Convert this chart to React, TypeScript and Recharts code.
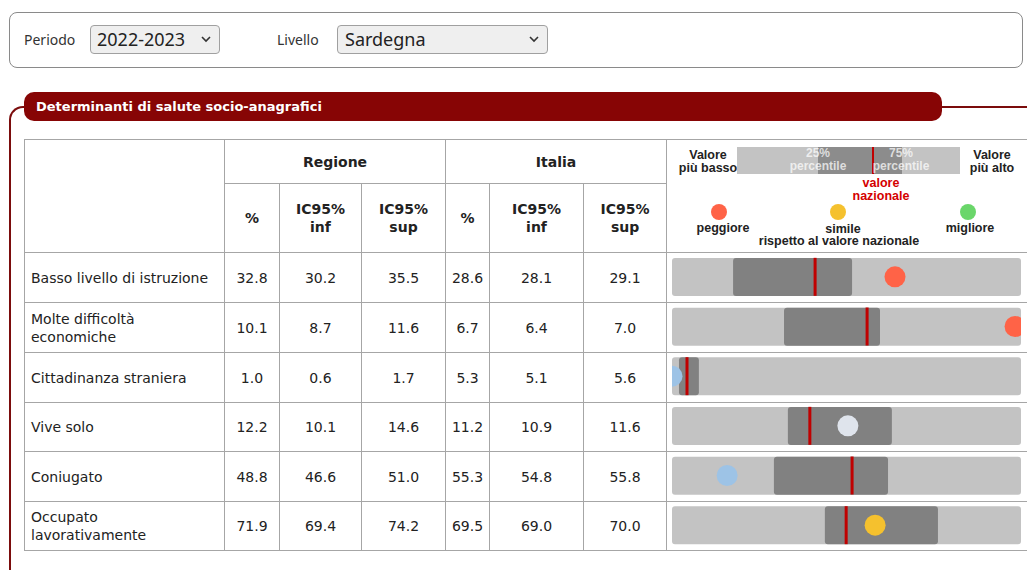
import React from 'react';
import { ComposedChart, Bar, Scatter, XAxis, YAxis } from 'recharts';

// ---- data ----
const indicators = [
  'Basso livello di istruzione',
  'Molte difficoltà economiche',
  'Cittadinanza straniera',
  'Vive solo',
  'Coniugato',
  'Occupato lavorativamente',
];
const regionPct = ['32.8', '10.1', '1.0', '12.2', '48.8', '71.9'];
const regionLow = ['30.2', '8.7', '0.6', '10.1', '46.6', '69.4'];
const regionHigh = ['35.5', '11.6', '1.7', '14.6', '51.0', '74.2'];
const italyPct = ['28.6', '6.7', '5.3', '11.2', '55.3', '69.5'];
const italyLow = ['28.1', '6.4', '5.1', '10.9', '54.8', '69.0'];
const italyHigh = ['29.1', '7.0', '5.6', '11.6', '55.8', '70.0'];
// spine chart, on a 0-100 scale from the lowest to the highest regional value
const p25Pos = [17.5, 32.1, 2.0, 33.2, 29.2, 43.8];
const p75Pos = [51.6, 59.6, 7.7, 63.0, 61.9, 76.2];
const nationalPos = [41.0, 55.9, 4.3, 39.5, 51.6, 49.9];
const regionPos = [63.9, 98.3, 0, 50.4, 15.8, 58.2];
const comparison = ['peggiore', 'peggiore', 'inferiore', 'ns', 'inferiore', 'simile'];

// ---- styles ----
const cmpColor: Record<string, string> = {
  peggiore: '#ff6347',
  simile: '#f5c12e',
  migliore: '#6ad66a',
  inferiore: '#9dc3e6',
  ns: '#dfe4ec',
};
const LIGHT = '#c3c3c3';
const DARK = '#818181';
const RED = '#c00000';
const BORDER = '#a6a6a6';

const chartRows = indicators.map((name, i) => ({
  name,
  lo: p25Pos[i],
  mid: p75Pos[i] - p25Pos[i],
  nat: nationalPos[i],
  reg: regionPos[i],
  cmp: comparison[i],
}));

const rowHeights = [50, 50, 50, 49, 50, 49];

const abs = (s: React.CSSProperties): React.CSSProperties => ({ position: 'absolute', ...s });

const NatLine = (props: any) => {
  const { cx, cy } = props;
  if (cx == null || cy == null) return <g />;
  return <rect x={cx - 1.5} y={cy - 19} width={3} height={38} fill={RED} />;
};
const RegDot = (props: any) => {
  const { cx, cy, payload } = props;
  if (cx == null || cy == null) return <g />;
  return <circle cx={cx} cy={cy} r={10.5} fill={cmpColor[payload.cmp]} />;
};

const Chevron = ({ left, top }: { left: number; top: number }) => (
  <svg style={abs({ left, top })} width={12} height={8}>
    <polyline points="2,2 6,6 10,2" fill="none" stroke="#333" strokeWidth={1.6} />
  </svg>
);

const legendFont: React.CSSProperties = {
  fontFamily: '"Liberation Sans", Arial, sans-serif',
  fontWeight: 'bold',
  fontSize: 12.5,
  lineHeight: '13px',
  color: '#222',
  textAlign: 'center',
  whiteSpace: 'nowrap',
};

const Centered = ({ cx, top, w = 200, style, children }: any) => (
  <div style={abs({ left: cx - w / 2, top, width: w, ...legendFont, ...style })}>{children}</div>
);

const cellBase: React.CSSProperties = {
  border: `1px solid ${BORDER}`,
  padding: 0,
  textAlign: 'center',
  verticalAlign: 'middle',
};

export default function App() {
  return (
    <div
      style={abs({
        left: 0,
        top: 0,
        width: 1027,
        height: 570,
        overflow: 'hidden',
        background: '#fff',
        fontFamily: '"DejaVu Sans", Verdana, sans-serif',
      })}
    >
      {/* filter box */}
      <div
        style={abs({
          left: 9,
          top: 12,
          width: 1014,
          height: 56,
          border: '1.5px solid #8a8a8a',
          borderRadius: 8,
          boxSizing: 'border-box',
        })}
      />
      <div style={abs({ left: 24, top: 30, fontFamily: '"Noto Sans"', fontSize: 14, lineHeight: '20px', color: '#333' })}>
        Periodo
      </div>
      <div
        style={abs({
          left: 90,
          top: 25,
          width: 130,
          height: 29,
          background: '#efefef',
          border: '1px solid #a0a0a0',
          borderRadius: 4,
          boxSizing: 'border-box',
        })}
      />
      <div style={abs({ left: 97, top: 26, fontFamily: '"Noto Sans"', fontSize: 18, lineHeight: '26px', color: '#222' })}>
        2022-2023
      </div>
      <Chevron left={200} top={35} />
      <div style={abs({ left: 277, top: 30, fontFamily: '"Noto Sans"', fontSize: 14, lineHeight: '20px', color: '#333' })}>
        Livello
      </div>
      <div
        style={abs({
          left: 337,
          top: 25,
          width: 211,
          height: 29,
          background: '#efefef',
          border: '1px solid #a0a0a0',
          borderRadius: 4,
          boxSizing: 'border-box',
        })}
      />
      <div style={abs({ left: 345, top: 26, fontFamily: '"Noto Sans"', fontSize: 18, lineHeight: '26px', color: '#222' })}>
        Sardegna
      </div>
      <Chevron left={528} top={35} />

      {/* section frame */}
      <div
        style={abs({
          left: 9,
          top: 106,
          width: 1100,
          height: 600,
          borderTop: '2px solid #7b0c0c',
          borderLeft: '2px solid #7b0c0c',
          borderTopLeftRadius: 14,
          boxSizing: 'border-box',
        })}
      />
      <div
        style={abs({
          left: 24,
          top: 92,
          width: 918,
          height: 29,
          background: '#870505',
          borderRadius: 10,
          color: '#fff',
          fontWeight: 'bold',
          fontSize: 13,
          lineHeight: '29px',
          paddingLeft: 12,
          boxSizing: 'border-box',
        })}
      >
        Determinanti di salute socio-anagrafici
      </div>

      {/* table */}
      <table
        style={abs({
          left: 24,
          top: 139,
          borderCollapse: 'collapse',
          tableLayout: 'fixed',
          width: 1012,
          fontSize: 14,
          color: '#222',
        })}
      >
        <colgroup>
          <col style={{ width: 200 }} />
          <col style={{ width: 55 }} />
          <col style={{ width: 82 }} />
          <col style={{ width: 84 }} />
          <col style={{ width: 44 }} />
          <col style={{ width: 94 }} />
          <col style={{ width: 83 }} />
          <col style={{ width: 370 }} />
        </colgroup>
        <tbody>
          <tr style={{ height: 44 }}>
            <td rowSpan={2} style={cellBase} />
            <td colSpan={3} style={{ ...cellBase, fontWeight: 'bold' }}>Regione</td>
            <td colSpan={3} style={{ ...cellBase, fontWeight: 'bold' }}>Italia</td>
            <td rowSpan={2} style={cellBase} />
          </tr>
          <tr style={{ height: 69 }}>
            <td style={{ ...cellBase, fontWeight: 'bold' }}>%</td>
            <td style={{ ...cellBase, fontWeight: 'bold', lineHeight: '18px' }}>IC95%<br />inf</td>
            <td style={{ ...cellBase, fontWeight: 'bold', lineHeight: '18px' }}>IC95%<br />sup</td>
            <td style={{ ...cellBase, fontWeight: 'bold' }}>%</td>
            <td style={{ ...cellBase, fontWeight: 'bold', lineHeight: '18px' }}>IC95%<br />inf</td>
            <td style={{ ...cellBase, fontWeight: 'bold', lineHeight: '18px' }}>IC95%<br />sup</td>
          </tr>
          {indicators.map((name, i) => (
            <tr key={name} style={{ height: rowHeights[i] }}>
              <td style={{ ...cellBase, textAlign: 'left', paddingLeft: 6, paddingRight: 12, lineHeight: '18px' }}>{name}</td>
              <td style={cellBase}>{regionPct[i]}</td>
              <td style={cellBase}>{regionLow[i]}</td>
              <td style={cellBase}>{regionHigh[i]}</td>
              <td style={cellBase}>{italyPct[i]}</td>
              <td style={cellBase}>{italyLow[i]}</td>
              <td style={cellBase}>{italyHigh[i]}</td>
              <td style={cellBase} />
            </tr>
          ))}
        </tbody>
      </table>

      {/* legend in header cell */}
      <Centered cx={708} top={149}>Valore<br />più basso</Centered>
      <Centered cx={992} top={149}>Valore<br />più alto</Centered>
      <div style={abs({ left: 737, top: 147, width: 223, height: 27, background: LIGHT })} />
      <div style={abs({ left: 818, top: 147, width: 84, height: 27, background: '#8c8c8c' })} />
      <div style={abs({ left: 872, top: 147, width: 2, height: 27, background: RED })} />
      <Centered cx={818} top={147} style={{ color: 'rgba(255,255,255,0.72)', fontSize: 12 }}>25%<br />percentile</Centered>
      <Centered cx={901} top={147} style={{ color: 'rgba(255,255,255,0.72)', fontSize: 12 }}>75%<br />percentile</Centered>
      <Centered cx={881} top={177} style={{ color: '#d40000', fontSize: 12.5 }}>valore<br />nazionale</Centered>
      <svg style={abs({ left: 666, top: 195 })} width={361} height={30}>
        <circle cx={53} cy={17} r={8} fill={cmpColor.peggiore} />
        <circle cx={172} cy={17} r={8} fill={cmpColor.simile} />
        <circle cx={302} cy={17} r={8} fill={cmpColor.migliore} />
      </svg>
      <Centered cx={723} top={222}>peggiore</Centered>
      <Centered cx={843} top={223}>simile</Centered>
      <Centered cx={839} top={235}>rispetto al valore nazionale</Centered>
      <Centered cx={970} top={222}>migliore</Centered>

      {/* spine charts */}
      <div style={abs({ left: 672, top: 252 })}>
        <ComposedChart
          width={349}
          height={298}
          data={chartRows}
          layout="vertical"
          margin={{ top: 0, right: 0, bottom: 0, left: 0 }}
        >
          <XAxis type="number" domain={[0, 100]} hide />
          <YAxis type="category" dataKey="name" hide width={0} />
          <Bar
            dataKey="lo"
            stackId="s"
            fill="transparent"
            barSize={38}
            background={{ fill: LIGHT, radius: 3 } as any}
            isAnimationActive={false}
          />
          <Bar dataKey="mid" stackId="s" fill={DARK} radius={3} barSize={38} isAnimationActive={false} />
          <Scatter dataKey="nat" shape={NatLine} isAnimationActive={false} />
          <Scatter dataKey="reg" shape={RegDot} isAnimationActive={false} />
        </ComposedChart>
      </div>
    </div>
  );
}
